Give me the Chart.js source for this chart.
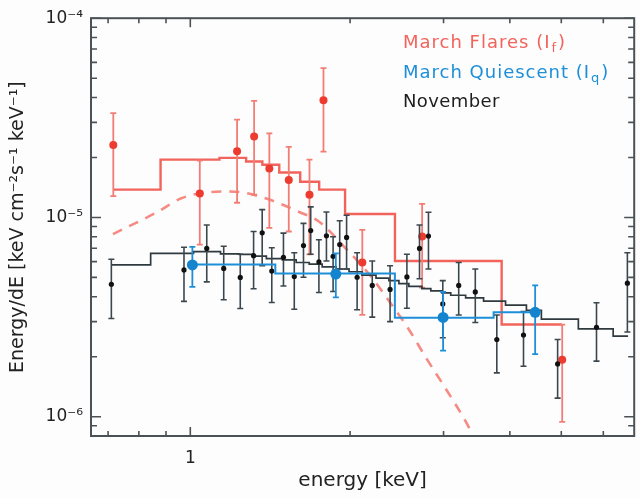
<!DOCTYPE html>
<html>
<head>
<meta charset="utf-8">
<script src="https://cdn.jsdelivr.net/npm/chart.js@4.4.1/dist/chart.umd.min.js"></script>
<style>
html,body{margin:0;padding:0;background:#fdfdfe;}
#wrap{width:640px;height:498px;}
</style>
</head>
<body>
<div id="wrap"><canvas id="c" width="640" height="498"></canvas></div>
<script>
// ---------------- data (energy in keV, flux in keV cm^-2 s^-1 keV^-1) ----------------
const seriesNames = ['March Flares (I', 'March Quiescent (I', 'November'];
const seriesSubs = ['f', 'q', ''];

// March Flares: data points with error bars
const flareE   = [0.716, 1.042, 1.225, 1.319, 1.409, 1.533, 1.677, 1.782, 2.109, 2.734, 5.02];
const flareVal = [2.31e-5, 1.32e-5, 2.15e-5, 2.55e-5, 1.76e-5, 1.54e-5, 1.30e-5, 3.87e-5, 5.94e-6, 8.03e-6, 1.93e-6];
const flareHi  = [3.34e-5, 1.93e-5, 3.10e-5, 3.85e-5, 2.64e-5, 2.26e-5, 1.95e-5, 5.61e-5, 8.66e-6, 1.17e-5, 2.90e-6];
const flareLo  = [1.28e-5, 7.31e-6, 1.185e-5, 1.30e-5, 8.86e-6, 8.50e-6, 6.53e-6, 2.14e-5, 3.24e-6, 4.44e-6, 9.42e-7];
// March Flares: model histogram (bin edges / levels)
const flareStepEdges = [0.715, 0.879, 1.135, 1.274, 1.367, 1.471, 1.611, 1.749, 1.957, 2.43, 3.86, 5.01];
const flareStepVal   = [1.38e-5, 1.95e-5, 1.99e-5, 1.91e-5, 1.84e-5, 1.68e-5, 1.51e-5, 1.38e-5, 1.04e-5, 6.05e-6, 2.90e-6];
// March Flares: dashed component
const flareModelE   = [0.715, 0.867, 0.959, 1.041, 1.156, 1.252, 1.391, 1.604, 1.749, 1.932, 2.171, 2.385, 2.581, 2.789, 3.025, 3.298, 3.418];
const flareModelVal = [8.25e-6, 1.065e-5, 1.244e-5, 1.32e-5, 1.35e-5, 1.336e-5, 1.244e-5, 1.065e-5, 9.52e-6, 7.31e-6, 5.20e-6, 3.71e-6, 2.74e-6, 1.95e-6, 1.389e-6, 9.53e-7, 7.95e-7];

// March Quiescent
const quietE   = [1.009, 1.880, 2.994, 4.464];
const quietVal = [5.78e-6, 5.20e-6, 3.15e-6, 3.34e-6];
const quietHi  = [7.12e-6, 6.60e-6, 4.23e-6, 4.56e-6];
const quietLo  = [4.48e-6, 3.97e-6, 2.145e-6, 2.06e-6];
const quietStepEdges = [1.0, 1.446, 2.429, 3.728, 4.464];
const quietStepVal   = [5.80e-6, 5.23e-6, 3.14e-6, 3.34e-6];

// November
const novE   = [0.710, 0.973, 1.074, 1.156, 1.242, 1.316, 1.366, 1.424, 1.498, 1.570, 1.634, 1.686, 1.747, 1.805, 1.858, 1.912, 1.970, 2.062, 2.202, 2.379, 2.559, 2.703, 2.810, 2.990, 3.204, 3.443, 3.780, 4.244, 4.921, 5.825, 6.66];
const novVal = [4.62e-6, 5.45e-6, 6.99e-6, 5.55e-6, 5.00e-6, 6.43e-6, 8.37e-6, 5.38e-6, 6.31e-6, 5.05e-6, 7.23e-6, 8.59e-6, 5.98e-6, 8.09e-6, 6.38e-6, 7.31e-6, 7.94e-6, 5.01e-6, 4.56e-6, 4.35e-6, 5.03e-6, 6.99e-6, 8.06e-6, 3.68e-6, 4.56e-6, 4.23e-6, 2.44e-6, 2.57e-6, 1.84e-6, 2.81e-6, 4.68e-6];
const novHi  = [6.17e-6, 7.09e-6, 9.17e-6, 7.17e-6, 6.53e-6, 8.50e-6, 1.095e-5, 7.04e-6, 8.34e-6, 6.65e-6, 9.34e-6, 1.13e-5, 7.73e-6, 1.065e-5, 8.00e-6, 9.62e-6, 1.026e-5, 6.65e-6, 6.05e-6, 5.72e-6, 6.53e-6, 9.17e-6, 1.062e-5, 4.82e-6, 5.94e-6, 5.51e-6, 3.24e-6, 3.37e-6, 2.44e-6, 3.73e-6, 6.65e-6];
const novLo  = [3.11e-6, 3.79e-6, 4.75e-6, 3.86e-6, 3.49e-6, 4.39e-6, 5.72e-6, 3.74e-6, 4.53e-6, 3.46e-6, 5.01e-6, 6.53e-6, 4.20e-6, 6.05e-6, 4.25e-6, 5.51e-6, 5.51e-6, 3.44e-6, 3.16e-6, 3.00e-6, 3.50e-6, 4.92e-6, 5.51e-6, 2.49e-6, 3.24e-6, 2.97e-6, 1.66e-6, 1.79e-6, 1.24e-6, 1.90e-6, 2.66e-6];
const novStepEdges = [0.709, 0.842, 1.014, 1.140, 1.238, 1.309, 1.391, 1.491, 1.583, 1.675, 1.772, 1.883, 1.991, 2.106, 2.238, 2.367, 2.472, 2.581, 2.731, 2.839, 2.977, 3.095, 3.302, 3.569, 3.926, 4.298, 4.586, 5.384, 6.262, 6.68];
const novStepVal   = [5.78e-6, 6.60e-6, 6.73e-6, 6.56e-6, 6.53e-6, 6.40e-6, 6.22e-6, 6.12e-6, 5.94e-6, 5.83e-6, 5.65e-6, 5.51e-6, 5.34e-6, 5.14e-6, 4.96e-6, 4.82e-6, 4.65e-6, 4.51e-6, 4.39e-6, 4.28e-6, 4.18e-6, 4.07e-6, 3.95e-6, 3.80e-6, 3.63e-6, 3.42e-6, 3.09e-6, 2.76e-6, 2.54e-6];

// axis ticks
const xTickValues = [0.7, 0.8, 0.9, 1, 2, 3, 4, 5, 6];
const xTickLabels = {1: '1'};
const yTickValues = [8e-7, 9e-7, 1e-6, 2e-6, 3e-6, 4e-6, 5e-6, 6e-6, 7e-6, 8e-6, 9e-6,
                     1e-5, 2e-5, 3e-5, 4e-5, 5e-5, 6e-5, 7e-5, 8e-5, 9e-5, 1e-4];
const xTitle = 'energy [keV]';
const yTitle = 'Energy/dE [keV cm\u207B\u00B2s\u207B\u00B9 keV\u207B\u00B9]';

// ---------------- helpers ----------------
const FONT = "'DejaVu Sans', 'Liberation Sans', sans-serif";
const RED = '#f2645b', RED_PT = '#ee3b30', RED_BAR = '#f27d75';
const BLUE = '#1c8fd8', BLUE_PT = '#1584cf';
const BLK = '#2f3a3f', BLK_BAR = '#3b474d', BLK_PT = '#111111';

function pts(E, V) { return E.map((e, i) => ({x: e, y: V[i]})); }
function steps(edges, vals) { return edges.map((e, i) => ({x: e, y: vals[Math.min(i, vals.length - 1)]})); }
function bars(E, lo, hi) {
  const out = [];
  E.forEach((e, i) => { out.push({x: e, y: lo[i]}, {x: e, y: hi[i]}, {x: e, y: null}); });
  return out;
}
const supMap = {'-': '\u207B', '0': '\u2070', '1': '\u00B9', '2': '\u00B2', '3': '\u00B3', '4': '\u2074', '5': '\u2075', '6': '\u2076', '7': '\u2077', '8': '\u2078', '9': '\u2079'};
function sup(n) { return String(n).split('').map(c => supMap[c]).join(''); }

function stepDS(data, color, width, order) {
  return {data, showLine: true, stepped: 'before', borderColor: color, borderWidth: width,
          pointRadius: 0, fill: false, order};
}
function barDS(data, color, width, order) {
  return {data, showLine: true, spanGaps: false, borderColor: color, borderWidth: width,
          pointStyle: 'line', pointRadius: 3, pointBorderColor: color, pointBorderWidth: width,
          pointBackgroundColor: color, order};
}
function ptDS(data, color, r, order) {
  return {data, showLine: false, pointRadius: r, pointBackgroundColor: color,
          pointBorderColor: color, pointBorderWidth: 0, order};
}

const framePlugin = {
  id: 'frame',
  beforeDraw(chart) {
    const ctx = chart.ctx;
    ctx.save();
    ctx.fillStyle = '#fdfdfe';
    ctx.fillRect(0, 0, chart.width, chart.height);
    ctx.restore();
  },
  afterDatasetsDraw(chart) {
    const {ctx, chartArea: a, scales: {x, y}} = chart;
    ctx.save();
    ctx.strokeStyle = '#4a5256';
    ctx.lineWidth = 2;
    ctx.strokeRect(a.left, a.top, a.right - a.left, a.bottom - a.top);
    ctx.lineWidth = 1.6;
    ctx.beginPath();
    x.ticks.forEach(t => {
      const px = x.getPixelForValue(t.value);
      const L = (t.value === 1) ? 9 : 5;
      ctx.moveTo(px, a.bottom); ctx.lineTo(px, a.bottom - L);
      ctx.moveTo(px, a.top); ctx.lineTo(px, a.top + L);
    });
    y.ticks.forEach(t => {
      const py = y.getPixelForValue(t.value);
      const lg = Math.log10(t.value);
      const L = Math.abs(lg - Math.round(lg)) < 1e-9 ? 10 : 6;
      ctx.moveTo(a.left, py); ctx.lineTo(a.left + L, py);
      ctx.moveTo(a.right, py); ctx.lineTo(a.right - L, py);
    });
    ctx.stroke();

    // legend text
    const colors = [RED, BLUE, '#1e1e1e'];
    const lx = 403, ly0 = 48, dy = 29.5;
    seriesNames.forEach((name, i) => {
      const by = ly0 + i * dy;
      ctx.fillStyle = colors[i];
      ctx.textBaseline = 'alphabetic';
      ctx.textAlign = 'left';
      ctx.font = '18px ' + FONT;
      ctx.letterSpacing = i === 2 ? '0.4px' : '1px';
      ctx.fillText(name, lx, by);
      let cx = lx + ctx.measureText(name).width;
      if (seriesSubs[i]) {
        ctx.font = '13px ' + FONT;
        ctx.fillText(seriesSubs[i], cx + 1, by + 4);
        cx += ctx.measureText(seriesSubs[i]).width + 2;
        ctx.font = '18px ' + FONT;
        ctx.fillText(')', cx, by);
      }
    });
    ctx.restore();
  }
};

new Chart(document.getElementById('c'), {
  type: 'scatter',
  data: {
    datasets: [
      ptDS(pts(quietE, quietVal), BLUE_PT, 5.5, 0),
      barDS(bars(quietE, quietLo, quietHi), BLUE, 1.8, 1),
      stepDS(steps(quietStepEdges, quietStepVal), BLUE, 2, 2),
      ptDS(pts(novE, novVal), BLK_PT, 2.6, 3),
      barDS(bars(novE, novLo, novHi), BLK_BAR, 1.6, 4),
      stepDS(steps(novStepEdges, novStepVal), BLK, 1.7, 5),
      ptDS(pts(flareE, flareVal), RED_PT, 4, 6),
      barDS(bars(flareE, flareLo, flareHi), RED_BAR, 1.8, 7),
      stepDS(steps(flareStepEdges, flareStepVal), RED, 2.4, 8),
      {data: pts(flareModelE, flareModelVal), showLine: true, borderColor: '#f58b83', borderWidth: 2.6,
       borderDash: [10, 8], pointRadius: 0, cubicInterpolationMode: 'monotone', order: 9}
    ]
  },
  options: {
    responsive: false,
    animation: false,
    events: [],
    layout: {padding: {left: 0, right: 4, top: 10, bottom: 0}},
    plugins: {legend: {display: false}, tooltip: {enabled: false}},
    scales: {
      x: {
        type: 'logarithmic', min: 0.65, max: 6.86,
        grid: {display: false, drawTicks: false},
        border: {display: false},
        afterBuildTicks: s => { s.ticks = xTickValues.map(v => ({value: v})); },
        afterFit: s => { s.height = 62; },
        ticks: {autoSkip: false, maxRotation: 0, padding: 12, color: '#222',
                font: {family: FONT, size: 17},
                callback: v => xTickLabels[v] || ''},
        title: {display: true, text: xTitle, color: '#222', font: {family: FONT, size: 20},
                padding: {top: 0, bottom: 5}}
      },
      y: {
        type: 'logarithmic', min: 8.0e-7, max: 1e-4,
        grid: {display: false, drawTicks: false},
        border: {display: false},
        afterBuildTicks: s => { s.ticks = yTickValues.map(v => ({value: v})); },
        afterFit: s => { s.width = 91; },
        ticks: {autoSkip: false, padding: 8, color: '#222',
                font: {family: FONT, size: 17},
                callback: v => {
                  const l = Math.log10(v);
                  return Math.abs(l - Math.round(l)) < 1e-9 ? '10' + sup(Math.round(l)) : '';
                }},
        title: {display: true, text: yTitle, color: '#222', font: {family: FONT, size: 19},
                padding: {top: 7, bottom: 0}}
      }
    }
  },
  plugins: [framePlugin]
});
</script>
</body>
</html>
